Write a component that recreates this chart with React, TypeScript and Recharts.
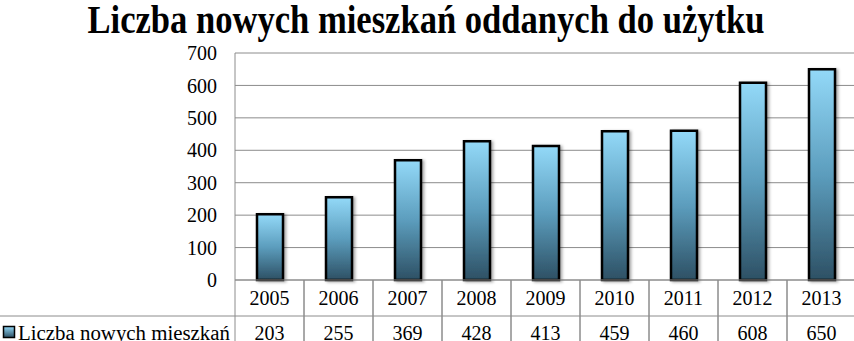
import { BarChart, Bar, XAxis, YAxis, CartesianGrid } from "recharts"

const YEARS = ["2005", "2006", "2007", "2008", "2009", "2010", "2011", "2012", "2013"]
const NEW_FLATS = [203, 255, 369, 428, 413, 459, 460, 608, 650]
const Y_TICKS = [0, 100, 200, 300, 400, 500, 600, 700]
const SERIES_NAME = "Liczba nowych mieszkań"
const TITLE = "Liczba nowych mieszkań oddanych do użytku"

const data = YEARS.map((year, i) => ({ year, value: NEW_FLATS[i] }))

const FONT = "'Liberation Serif', 'Times New Roman', serif"
const GRID = "#8c8c8c"
const CHART_W = 856
const CHART_H = 341
const AXIS_W = 235
const TOP = 53
const PLOT_BOTTOM = 280
const BAND = (CHART_W - AXIS_W) / YEARS.length

// draws the data table cell for each category under the plot
function TableTick(props: any) {
  const { x, payload } = props
  const i = payload.index
  const half = BAND / 2
  return (
    <g>
      <line x1={x - half} x2={x - half} y1={PLOT_BOTTOM} y2={CHART_H} stroke={GRID} strokeWidth={1} />
      <line x1={x + half} x2={x + half} y1={PLOT_BOTTOM} y2={CHART_H} stroke={GRID} strokeWidth={1} />
      <text x={x} y={305} textAnchor="middle" fontFamily={FONT} fontSize={20} fill="#000">
        {payload.value}
      </text>
      <text x={x} y={340} textAnchor="middle" fontFamily={FONT} fontSize={20} fill="#000">
        {NEW_FLATS[i]}
      </text>
    </g>
  )
}

export default function App() {
  return (
    <div style={{ position: "fixed", top: 0, left: 0, width: 854, height: 341, overflow: "hidden", background: "#fff" }}>
      <BarChart
        width={CHART_W}
        height={CHART_H}
        data={data}
        barSize={26}
        margin={{ top: TOP, right: 0, bottom: 0, left: 0 }}
      >
        <defs>
          <linearGradient id="barFill" x1="0" y1="0" x2="0" y2="1">
            <stop offset="0%" stopColor="#93d9f8" />
            <stop offset="50%" stopColor="#5c9dbd" />
            <stop offset="100%" stopColor="#2d5064" />
          </linearGradient>
          <filter id="barShadow" x="-30%" y="-10%" width="160%" height="130%">
            <feDropShadow dx="2" dy="1" stdDeviation="1.5" floodColor="#000" floodOpacity="0.35" />
          </filter>
        </defs>
        <CartesianGrid vertical={false} stroke={GRID} strokeWidth={1} />
        <YAxis
          width={AXIS_W}
          domain={[0, 700]}
          ticks={Y_TICKS}
          tickLine={false}
          tickSize={0}
          tickMargin={18}
          axisLine={{ stroke: GRID }}
          tick={{ fontFamily: FONT, fontSize: 20, fill: "#000" }}
        />
        <XAxis
          dataKey="year"
          height={CHART_H - PLOT_BOTTOM}
          tickLine={false}
          axisLine={{ stroke: GRID }}
          interval={0}
          tick={<TableTick />}
        />
        <Bar
          dataKey="value"
          fill="url(#barFill)"
          stroke="#000"
          strokeWidth={2.5}
          filter="url(#barShadow)"
          isAnimationActive={false}
        />
      </BarChart>
      <svg width={854} height={341} style={{ position: "absolute", top: 0, left: 0, pointerEvents: "none" }}>
        <defs>
          <linearGradient id="keyFill" x1="0" y1="0" x2="0" y2="1">
            <stop offset="0%" stopColor="#93d9f8" />
            <stop offset="100%" stopColor="#2d5064" />
          </linearGradient>
        </defs>
        <text
          x={426}
          y={33}
          textAnchor="middle"
          fontFamily={FONT}
          fontWeight="bold"
          fontSize={40}
          textLength={677}
          lengthAdjust="spacingAndGlyphs"
          fill="#000"
        >
          {TITLE}
        </text>
        <line x1={0} x2={854} y1={316} y2={316} stroke={GRID} strokeWidth={1} />
        <rect x={3.5} y={326.5} width={11} height={11} fill="url(#keyFill)" stroke="#000" strokeWidth={1.5} />
        <text x={18} y={340} fontFamily={FONT} fontSize={20} textLength={212} lengthAdjust="spacingAndGlyphs" fill="#000">
          {SERIES_NAME}
        </text>
      </svg>
    </div>
  )
}
